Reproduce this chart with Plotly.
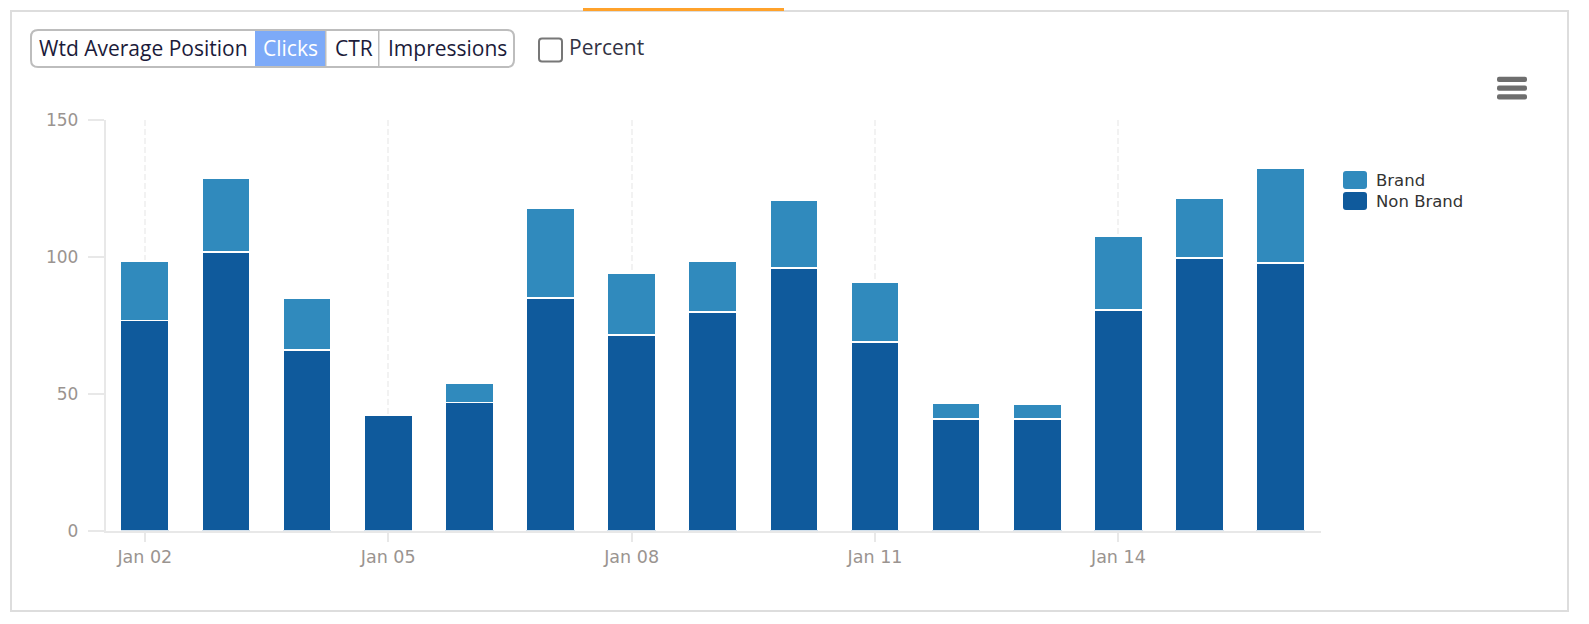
import plotly.graph_objects as go

WIDTH, HEIGHT = 1589, 624

dates = ["2017-01-%02d" % d for d in range(2, 17)]
non_brand = [76.8, 101.9, 65.9, 42.3, 46.8, 85.1, 71.6, 80.0, 95.9, 69.0, 40.9, 40.9, 80.6, 99.7, 97.8]
brand = [21.7, 26.8, 19.1, 0, 7.0, 32.6, 22.4, 18.5, 24.9, 21.8, 5.7, 5.3, 26.9, 21.7, 34.5]
buttons = ["Wtd Average Position", "Clicks", "CTR", "Impressions"]
button_x = [38.3, 261.5, 333.5, 386.5]

BRAND_COLOR = "#308abd"
NON_BRAND_COLOR = "#0f5a9c"
AXIS_COLOR = "#e8e8e8"
UI_FONT = "Open Sans"


def px(x):
    return x / WIDTH


def py(y):
    return 1 - y / HEIGHT


def rect(x0, y0, x1, y1, fill=None, line=None, line_width=0):
    return dict(type="rect", xref="paper", yref="paper", x0=px(x0), x1=px(x1), y0=py(y0), y1=py(y1),
                fillcolor=fill or "rgba(0,0,0,0)", line=dict(color=line or "rgba(0,0,0,0)", width=line_width))


def round_rect(x0, y0, x1, y1, r, fill=None, line=None, line_width=0):
    # plotly has no rounded rect, so build it as a path in paper coords
    def p(x, y):
        return f"{px(x)},{py(y)}"
    path = (f"M{p(x0 + r, y0)} L{p(x1 - r, y0)} Q{p(x1, y0)} {p(x1, y0 + r)} "
            f"L{p(x1, y1 - r)} Q{p(x1, y1)} {p(x1 - r, y1)} "
            f"L{p(x0 + r, y1)} Q{p(x0, y1)} {p(x0, y1 - r)} "
            f"L{p(x0, y0 + r)} Q{p(x0, y0)} {p(x0 + r, y0)} Z")
    return dict(type="path", xref="paper", yref="paper", path=path,
                fillcolor=fill or "rgba(0,0,0,0)", line=dict(color=line or "rgba(0,0,0,0)", width=line_width))


def label(text, x, y, font, xanchor="left"):
    return dict(text=text, xref="paper", yref="paper", x=px(x), y=py(y), xanchor=xanchor, yanchor="middle",
                showarrow=False, font=font, borderpad=0)


shapes = [
    # panel frame and the orange tab marker
    rect(11, 11, 1568, 611, line="#dddddd", line_width=2),
    rect(583, 8, 784, 11, fill="#ffa22b"),
    # button group
    rect(255, 30, 325, 67, fill="#7daaf8"),
    round_rect(31, 30, 514, 67, 7, line="#bdbdbd", line_width=2),
    rect(378, 30, 379.5, 67, fill="#bdbdbd"),
    rect(325, 30, 326.5, 67, fill="#bdbdbd"),
    # checkbox
    round_rect(539, 38.5, 562, 61.5, 3, fill="white", line="#777777", line_width=2),
    # menu icon
    round_rect(1497, 76.7, 1527, 82, 2, fill="#6e6e6e"),
    round_rect(1497, 85.5, 1527, 90.8, 2, fill="#6e6e6e"),
    round_rect(1497, 94.2, 1527, 99.4, 2, fill="#6e6e6e"),
    # legend swatches
    round_rect(1343, 171, 1367, 189, 3, fill=BRAND_COLOR),
    round_rect(1343, 192, 1367, 210, 3, fill=NON_BRAND_COLOR),
]

annotations = [
    label("Percent", 567.5, 47, dict(family=UI_FONT, size=21, color="#333344")),
    label("Brand", 1375, 180.5, dict(family="DejaVu Sans", size=16.5, color="#333333")),
    label("Non Brand", 1375, 202, dict(family="DejaVu Sans", size=16.5, color="#333333")),
]
for name, x in zip(buttons, button_x):
    color = "white" if name == "Clicks" else "#1b1b3a"
    annotations.append(label(name, x, 48, dict(family=UI_FONT, size=21, color=color)))

bar_width = 48.5 / 81.1 * 86400000

fig = go.Figure()
fig.add_trace(go.Bar(name="Non Brand", x=dates, y=non_brand, width=bar_width,
                     marker=dict(color=NON_BRAND_COLOR, line=dict(color="white", width=1.8))))
fig.add_trace(go.Bar(name="Brand", x=dates, y=brand, width=bar_width,
                     marker=dict(color=BRAND_COLOR, line=dict(color="white", width=1.8))))

fig.update_layout(
    barmode="stack",
    width=WIDTH,
    height=HEIGHT,
    margin=dict(l=0, r=0, t=0, b=0),
    paper_bgcolor="white",
    plot_bgcolor="white",
    showlegend=False,
    shapes=shapes,
    annotations=annotations,
    xaxis=dict(
        domain=[px(105.8), px(1321.2)],
        automargin=False,
        type="date",
        range=["2017-01-01 12:27", "2017-01-16 12:00"],
        tick0="2017-01-02",
        dtick=3 * 86400000,
        tickformat="%b %d",
        tickfont=dict(family="DejaVu Sans", size=17.5, color="#9a9490"),
        ticks="outside",
        ticklen=9,
        tickwidth=2,
        tickcolor=AXIS_COLOR,
        ticklabelstandoff=0,
        showline=True,
        linecolor=AXIS_COLOR,
        linewidth=2,
        showgrid=True,
        gridcolor="#f2f2f2",
        gridwidth=2,
        griddash="6px,3px",
        zeroline=False,
    ),
    yaxis=dict(
        domain=[py(530.7), py(120)],
        automargin=False,
        range=[0, 150],
        tickvals=[0, 50, 100, 150],
        tickfont=dict(family="DejaVu Sans", size=17, color="#9a9490"),
        ticks="outside",
        ticklen=16,
        tickwidth=2,
        tickcolor=AXIS_COLOR,
        ticklabelstandoff=6,
        showline=True,
        linecolor=AXIS_COLOR,
        linewidth=2,
        showgrid=False,
        zeroline=False,
    ),
)

fig.write_html("out.html", config=dict(displayModeBar=False), post_script="document.body.style.margin='0';")
